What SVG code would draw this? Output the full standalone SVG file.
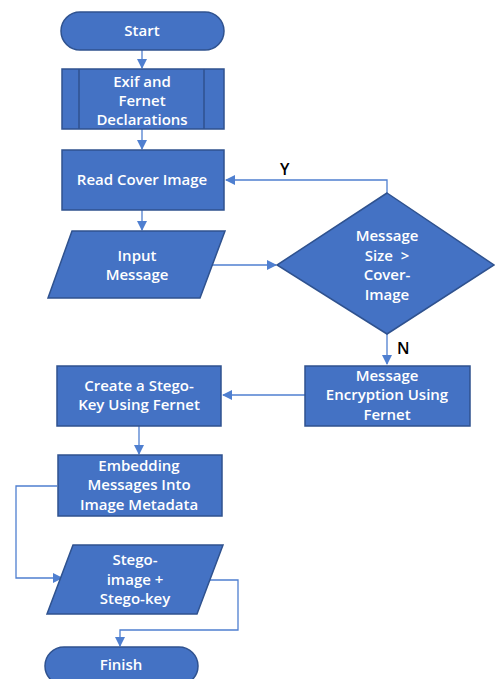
<svg xmlns="http://www.w3.org/2000/svg" width="495" height="679" viewBox="0 0 495 679">
<defs>
<style>
.n{fill:#4472C4;stroke:#2F528F;stroke-width:1.5}
.t{fill:#fff;font-family:"Open Sans","Liberation Sans",Arial,sans-serif;font-size:15px;font-weight:600;text-anchor:middle}
.c{fill:none;stroke:#4F7FD0;stroke-width:1.3}
.l{fill:#000;font-family:"Open Sans","Liberation Sans",Arial,sans-serif;font-size:16px;font-weight:600}
</style>
<marker id="a" markerWidth="10" markerHeight="10" refX="9" refY="5" orient="auto" markerUnits="userSpaceOnUse">
<path d="M0,0 L10,5 L0,10 Z" fill="#4F7FD0"/>
</marker>
</defs>
<rect width="495" height="679" fill="#fff"/>
<g id="connectors">
<path class="c" d="M142,50 V68" marker-end="url(#a)"/>
<path class="c" d="M142,129 V149" marker-end="url(#a)"/>
<path class="c" d="M142,210 V230" marker-end="url(#a)"/>
<path class="c" d="M212,265 H276" marker-end="url(#a)"/>
<path class="c" d="M387,193 V180 H226" marker-end="url(#a)"/>
<path class="c" d="M387,334 V364" marker-end="url(#a)"/>
<path class="c" d="M305,395 H223" marker-end="url(#a)"/>
<path class="c" d="M139,426 V454" marker-end="url(#a)"/>
<path class="c" d="M57,486 H16 V578 H62" marker-end="url(#a)"/>
<path class="c" d="M210,580 H238 V630 H120 V646" marker-end="url(#a)"/>
<text class="l" x="280" y="175">Y</text>
<text class="l" x="397" y="354">N</text>
</g>
<g id="start">
<rect class="n" x="61" y="12" width="163" height="38" rx="19"/>
<text class="t" x="142" y="36">Start</text>
</g>
<g id="exif">
<rect class="n" x="62" y="69" width="162" height="60"/>
<path class="n" d="M79,69 V129 M204,69 V129"/>
<text class="t" x="142" y="87">Exif and</text>
<text class="t" x="142" y="106">Fernet</text>
<text class="t" x="142" y="125">Declarations</text>
</g>
<g id="read">
<rect class="n" x="62" y="150" width="162" height="60"/>
<text class="t" x="142" y="185">Read Cover Image</text>
</g>
<g id="input">
<polygon class="n" points="72,231 225,231 200,298 48,298"/>
<text class="t" x="137" y="261">Input</text>
<text class="t" x="137" y="280">Message</text>
</g>
<g id="decision">
<polygon class="n" points="387,193 494,265 387,334 277,265"/>
<text class="t" x="387" y="241">Message</text>
<text class="t" x="387" y="261" xml:space="preserve">Size  &gt;</text>
<text class="t" x="387" y="280">Cover-</text>
<text class="t" x="387" y="300">Image</text>
</g>
<g id="encrypt">
<rect class="n" x="305" y="366" width="165" height="60"/>
<text class="t" x="387" y="381">Message</text>
<text class="t" x="387" y="400">Encryption Using</text>
<text class="t" x="387" y="420">Fernet</text>
</g>
<g id="stegokey">
<rect class="n" x="57" y="366" width="164" height="60"/>
<text class="t" x="139" y="391">Create a Stego-</text>
<text class="t" x="139" y="410">Key Using Fernet</text>
</g>
<g id="embed">
<rect class="n" x="58" y="455" width="164" height="61"/>
<text class="t" x="139" y="471">Embedding</text>
<text class="t" x="139" y="490">Messages Into</text>
<text class="t" x="139" y="510">Image Metadata</text>
</g>
<g id="output">
<polygon class="n" points="73,545 223,545 197,614 47,614"/>
<text class="t" x="135" y="565">Stego-</text>
<text class="t" x="135" y="585">image +</text>
<text class="t" x="135" y="604">Stego-key</text>
</g>
<g id="finish">
<rect class="n" x="45" y="647" width="153" height="38" rx="19"/>
<text class="t" x="121" y="670">Finish</text>
</g>
</svg>
